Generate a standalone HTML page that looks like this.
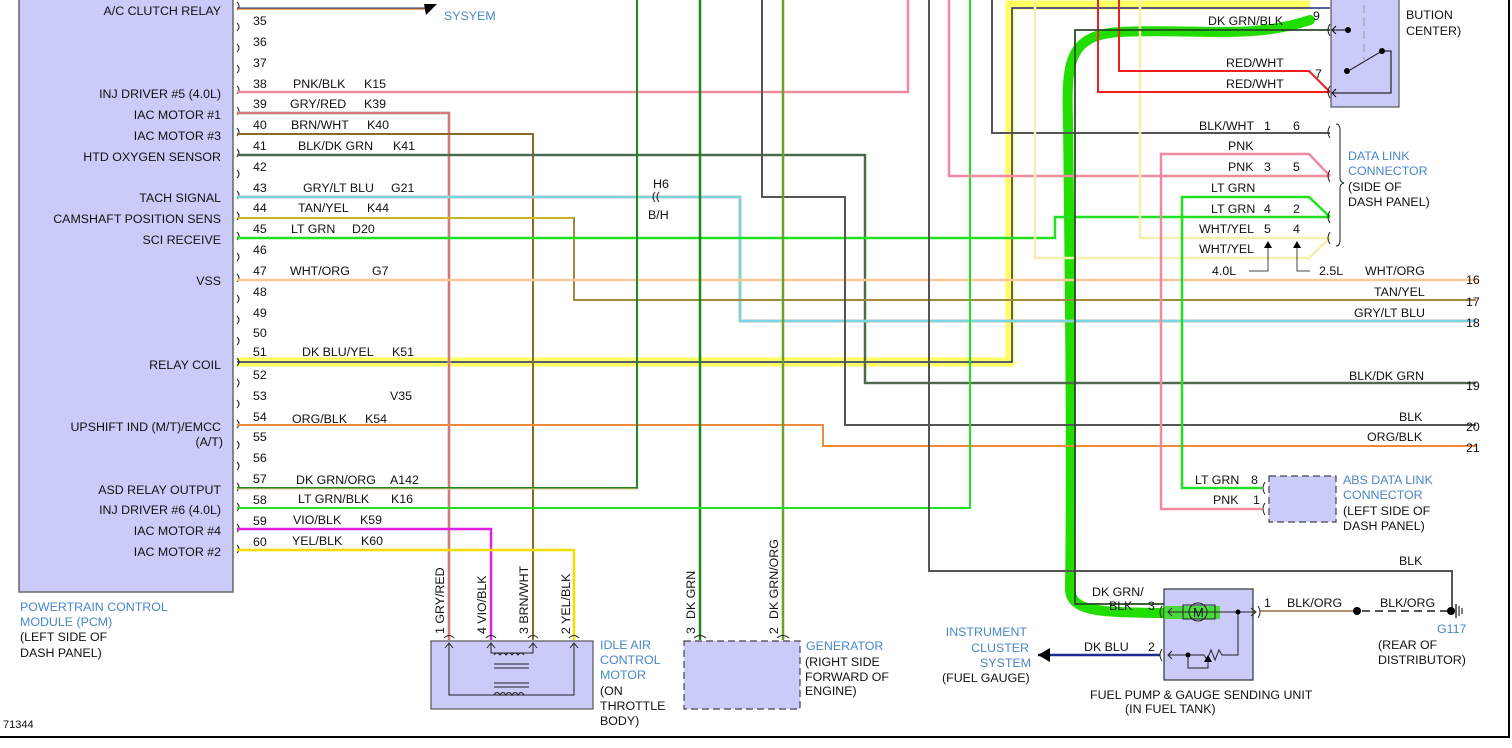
<!DOCTYPE html>
<html><head><meta charset="utf-8"><style>
html,body{margin:0;padding:0;background:#fff;}
svg{display:block;}
text{font-family:"Liberation Sans",sans-serif;font-size:12.4px;fill:#111;}
.b{fill:#4a86c8;}
</style></head><body>
<svg width="1512" height="748" viewBox="0 0 1512 748" xmlns="http://www.w3.org/2000/svg">
<!-- highlights first -->
<path d="M237 362 H1010 V5 H1310" fill="none" stroke="#ffff60" stroke-width="9"/>
<path d="M1310 20 C1250 40 1200 28 1120 32 C1070 35 1066 60 1068 120 C1070 300 1072 450 1070 590 C1072 612 1100 612 1160 613 H1220" fill="none" stroke="#22dd00" stroke-width="10" stroke-linecap="round"/>
<!-- borders -->
<line x1="1509" y1="0" x2="1509" y2="738" stroke="#000" stroke-width="2"/>
<line x1="0" y1="737" x2="1510" y2="737" stroke="#000" stroke-width="2"/>
<!-- PCM box -->
<rect x="19" y="-2" width="214" height="594" fill="#cbcbfa" stroke="#666" stroke-width="1.5"/>
<g text-anchor="end">
<text x="221" y="15">A/C CLUTCH RELAY</text>
<text x="221" y="98">INJ DRIVER #5 (4.0L)</text>
<text x="221" y="119">IAC MOTOR #1</text>
<text x="221" y="140">IAC MOTOR #3</text>
<text x="221" y="161">HTD OXYGEN SENSOR</text>
<text x="221" y="202">TACH SIGNAL</text>
<text x="221" y="223">CAMSHAFT POSITION SENS</text>
<text x="221" y="244">SCI RECEIVE</text>
<text x="221" y="285">VSS</text>
<text x="221" y="369">RELAY COIL</text>
<text x="221" y="431">UPSHIFT IND (M/T)/EMCC</text>
<text x="223" y="446">(A/T)</text>
<text x="221" y="494">ASD RELAY OUTPUT</text>
<text x="221" y="514">INJ DRIVER #6 (4.0L)</text>
<text x="221" y="535">IAC MOTOR #4</text>
<text x="221" y="556">IAC MOTOR #2</text>
</g>
<text x="20" y="611" class="b">POWERTRAIN CONTROL</text>
<text x="20" y="626" class="b">MODULE (PCM)</text>
<text x="20" y="641">(LEFT SIDE OF</text>
<text x="20" y="657">DASH PANEL)</text>
<text x="3" y="728" style="font-size:11px">71344</text>

<!-- pin arcs -->
<g fill="none" stroke="#222" stroke-width="1">
<path d="M237 2 q4 4 0 8"/>
<path d="M237 23 q4 4 0 8"/><path d="M237 44 q4 4 0 8"/><path d="M237 65 q4 4 0 8"/>
<path d="M237 86 q4 4 0 8"/><path d="M237 107 q4 4 0 8"/><path d="M237 128 q4 4 0 8"/>
<path d="M237 149 q4 4 0 8"/><path d="M237 170 q4 4 0 8"/><path d="M237 191 q4 4 0 8"/>
<path d="M237 212 q4 4 0 8"/><path d="M237 232 q4 4 0 8"/><path d="M237 253 q4 4 0 8"/>
<path d="M237 274 q4 4 0 8"/><path d="M237 295 q4 4 0 8"/><path d="M237 316 q4 4 0 8"/>
<path d="M237 337 q4 4 0 8"/><path d="M237 358 q4 4 0 8"/><path d="M237 379 q4 4 0 8"/>
<path d="M237 400 q4 4 0 8"/><path d="M237 420 q4 4 0 8"/><path d="M237 441 q4 4 0 8"/>
<path d="M237 462 q4 4 0 8"/><path d="M237 483 q4 4 0 8"/><path d="M237 503 q4 4 0 8"/>
<path d="M237 524 q4 4 0 8"/><path d="M237 545 q4 4 0 8"/>
</g>
<g>
<text x="253" y="25">35</text><text x="253" y="46">36</text><text x="253" y="67">37</text>
<text x="253" y="88">38</text><text x="253" y="108">39</text><text x="253" y="129">40</text>
<text x="253" y="150">41</text><text x="253" y="171">42</text><text x="253" y="192">43</text>
<text x="253" y="212">44</text><text x="253" y="233">45</text><text x="253" y="254">46</text>
<text x="253" y="275">47</text><text x="253" y="296">48</text><text x="253" y="317">49</text>
<text x="253" y="337">50</text><text x="253" y="356">51</text><text x="253" y="379">52</text>
<text x="253" y="400">53</text><text x="253" y="421">54</text><text x="253" y="441">55</text>
<text x="253" y="462">56</text><text x="253" y="483">57</text><text x="253" y="504">58</text>
<text x="253" y="525">59</text><text x="253" y="546">60</text>
</g>
<text x="293" y="88">PNK/BLK</text><text x="364" y="88">K15</text>
<text x="290" y="108">GRY/RED</text><text x="364" y="108">K39</text>
<text x="291" y="129">BRN/WHT</text><text x="367" y="129">K40</text>
<text x="298" y="150">BLK/DK GRN</text><text x="393" y="150">K41</text>
<text x="303" y="192">GRY/LT BLU</text><text x="391" y="192">G21</text>
<text x="298" y="212">TAN/YEL</text><text x="367" y="212">K44</text>
<text x="291" y="233">LT GRN</text><text x="352" y="233">D20</text>
<text x="290" y="275">WHT/ORG</text><text x="372" y="275">G7</text>
<text x="302" y="356">DK BLU/YEL</text><text x="392" y="356">K51</text>
<text x="390" y="400">V35</text>
<text x="292" y="423">ORG/BLK</text><text x="365" y="423">K54</text>
<text x="296" y="484">DK GRN/ORG</text><text x="390" y="484">A142</text>
<text x="298" y="503">LT GRN/BLK</text><text x="391" y="503">K16</text>
<text x="293" y="524">VIO/BLK</text><text x="360" y="524">K59</text>
<text x="292" y="545">YEL/BLK</text><text x="361" y="545">K60</text>

<line x1="237" y1="9" x2="428" y2="9" stroke="#f08a3a" stroke-width="1.5"/>
<line x1="237" y1="8" x2="428" y2="8" stroke="#1a2a80" stroke-width="1"/>
<polygon points="424,4 437,4 426,15" fill="#000"/>
<text x="444" y="20" class="b">SYSYEM</text>

<path d="M237 362 H1012 V8 H1330" fill="none" stroke="#1a2a80" stroke-width="1.5"/>

<g fill="none">
<path d="M237 92 H908 V0" stroke="#f08aa0" stroke-width="2.5"/>
<path d="M237 113 H449 V640" stroke="#bbb" stroke-width="3"/>
<path d="M237 113 H449 V640" stroke="#f05050" stroke-width="1.3"/>
<path d="M237 134 H533 V640" stroke="#8a6a2a" stroke-width="2"/>
<path d="M237 155 H865 V383 H1476" stroke="#4a7a4a" stroke-width="2.5"/>
<path d="M237 155 H865 V383 H1476" stroke="#555" stroke-width="1"/>
<path d="M237 197 H740 V321 H1476" stroke="#bbb" stroke-width="3"/>
<path d="M237 197 H740 V321 H1476" stroke="#60e0f0" stroke-width="1.5"/>
<path d="M237 218 H574 V300 H1476" stroke="#a08a40" stroke-width="2"/>
<path d="M237 218 H574" stroke="#f0e000" stroke-width="1"/>
<path d="M237 238 H1055 V217 H1330" stroke="#20e020" stroke-width="2.5"/>
<path d="M237 280 H1476" stroke="#f8c89a" stroke-width="2.5"/>
<path d="M237 425 H823 V446 H1476" stroke="#f08a3a" stroke-width="2"/>
<path d="M762 0 V197 H845 V425 H1476" stroke="#555" stroke-width="2"/>
<path d="M237 488 H637 V0" stroke="#208a20" stroke-width="2"/>
<path d="M237 489 H637" stroke="#f0c090" stroke-width="1"/>
<path d="M700 0 V640" stroke="#1a8a1a" stroke-width="2.5"/>
<path d="M783 0 V640" stroke="#6aa030" stroke-width="2.5"/>
<path d="M237 508 H970 V0" stroke="#20e020" stroke-width="2"/>
<path d="M237 529 H491 V640" stroke="#e020e0" stroke-width="2.5"/>
<path d="M237 550 H574 V640" stroke="#f0e000" stroke-width="2.5"/>
<path d="M929 0 V571 H1452 V610" stroke="#555" stroke-width="2"/>
<path d="M949 0 V176 H1330" stroke="#f08aa0" stroke-width="2.5"/>
<path d="M992 0 V133 H1330" stroke="#555" stroke-width="2"/>
<path d="M1035 0 V258 H1309 L1330 238" stroke="#f4f0b0" stroke-width="2.5"/>
<path d="M1140 0 V238 H1330" stroke="#f4f0b0" stroke-width="2.5"/>
<path d="M1098 0 V92 H1330" stroke="#f02020" stroke-width="2"/>
<path d="M1119 0 V71 H1309 L1330 92" stroke="#f02020" stroke-width="2"/>
<path d="M1330 176 L1309 154 H1161 V509 H1262" stroke="#f08aa0" stroke-width="2.5"/>
<path d="M1330 217 L1309 197 H1182 V488 H1262" stroke="#20e020" stroke-width="2.5"/>
<path d="M1330 30 H1075 V604 H1180" stroke="#2a4a2a" stroke-width="1.8"/>
<path d="M1038 655 H1160" stroke="#1a2a90" stroke-width="2.5"/>
<path d="M1260 611 H1355" stroke="#f0b080" stroke-width="2"/>
<path d="M1260 611 H1355" stroke="#555" stroke-width="0.8"/>
<path d="M1362 611 H1450" stroke="#555" stroke-width="2" stroke-dasharray="8,5"/>
</g>
<polygon points="1038,655 1050,648 1050,662" fill="#000"/>
<circle cx="1357" cy="611" r="4" fill="#000"/>
<circle cx="1451" cy="611" r="4" fill="#000"/>
<line x1="1456" y1="604" x2="1456" y2="618" stroke="#000" stroke-width="1.2"/>
<line x1="1459" y1="606" x2="1459" y2="616" stroke="#000" stroke-width="1"/>
<line x1="1462" y1="608" x2="1462" y2="614" stroke="#000" stroke-width="1"/>

<text x="653" y="188">H6</text>
<path d="M655 192 q-4 5 0 10 M659 192 q-4 5 0 10" fill="none" stroke="#222"/>
<text x="648" y="219">B/H</text>

<rect x="1331" y="-2" width="68" height="109" fill="#cbcbfa" stroke="#555" stroke-width="1.2"/>
<line x1="1364" y1="5" x2="1364" y2="60" stroke="#999" stroke-dasharray="8,5"/>
<path d="M1333 30 H1348" stroke="#000"/><circle cx="1348" cy="30" r="3" fill="#000"/>
<path d="M1336 26 L1332 30 L1336 34" fill="none" stroke="#000"/>
<circle cx="1347" cy="71" r="3" fill="#000"/><circle cx="1382" cy="51" r="3" fill="#000"/>
<line x1="1382" y1="51" x2="1350" y2="70" stroke="#000"/>
<path d="M1382 51 H1391 V93 H1333" fill="none" stroke="#000"/>
<path d="M1336 89 L1332 93 L1336 97" fill="none" stroke="#000"/>
<path d="M1330 24 q-4 6 0 12 M1330 86 q-4 6 0 12" fill="none" stroke="#222"/>
<text x="1313" y="20">9</text><text x="1315" y="78">7</text>
<text x="1208" y="25">DK GRN/BLK</text>
<text x="1226" y="67">RED/WHT</text><text x="1226" y="88">RED/WHT</text>
<text x="1406" y="19">BUTION</text><text x="1406" y="35">CENTER)</text>

<g fill="none" stroke="#222">
<path d="M1330 126 q-4 6 0 12"/><path d="M1330 170 q-4 6 0 12"/>
<path d="M1330 211 q-4 6 0 12"/><path d="M1330 232 q-4 6 0 12"/>
<path d="M1336 124 q4 0 4 6 V178 q0 4 4 5 q-4 1 -4 5 V240 q0 6 -4 6"/>
</g>
<text x="1199" y="130">BLK/WHT</text><text x="1264" y="130">1</text><text x="1293" y="130">6</text>
<text x="1228" y="150">PNK</text>
<text x="1228" y="171">PNK</text><text x="1264" y="171">3</text><text x="1293" y="171">5</text>
<text x="1211" y="192">LT GRN</text>
<text x="1211" y="213">LT GRN</text><text x="1264" y="213">4</text><text x="1293" y="213">2</text>
<text x="1199" y="233">WHT/YEL</text><text x="1264" y="233">5</text><text x="1293" y="233">4</text>
<text x="1199" y="253">WHT/YEL</text>
<polygon points="1268,241 1264,248 1272,248" fill="#000"/>
<polygon points="1297,241 1293,248 1301,248" fill="#000"/>
<path d="M1249 271 H1268 V248 M1297 248 V271 H1310" fill="none" stroke="#444"/>
<text x="1212" y="275">4.0L</text><text x="1319" y="275">2.5L</text>
<text x="1348" y="160" class="b">DATA LINK</text><text x="1348" y="175" class="b">CONNECTOR</text>
<text x="1348" y="191">(SIDE OF</text><text x="1348" y="206">DASH PANEL)</text>

<text x="1365" y="275">WHT/ORG</text><text x="1466" y="284">16</text>
<text x="1374" y="296">TAN/YEL</text><text x="1466" y="306">17</text>
<text x="1354" y="317">GRY/LT BLU</text><text x="1466" y="327">18</text>
<text x="1349" y="380">BLK/DK GRN</text><text x="1466" y="390">19</text>
<text x="1399" y="421">BLK</text><text x="1466" y="431">20</text>
<text x="1367" y="441">ORG/BLK</text><text x="1466" y="452">21</text>
<text x="1399" y="565">BLK</text>

<rect x="1269" y="476" width="67" height="46" fill="#cbcbfa" stroke="#444" stroke-width="1.2" stroke-dasharray="7,4"/>
<path d="M1265 482 q-4 6 0 12 M1265 503 q-4 6 0 12" fill="none" stroke="#222"/>
<text x="1195" y="484">LT GRN</text><text x="1251" y="484">8</text>
<text x="1213" y="504">PNK</text><text x="1253" y="504">1</text>
<text x="1343" y="484" class="b">ABS DATA LINK</text><text x="1343" y="499" class="b">CONNECTOR</text>
<text x="1343" y="515">(LEFT SIDE OF</text><text x="1343" y="530">DASH PANEL)</text>

<rect x="431" y="641" width="162" height="68" fill="#cbcbfa" stroke="#555" stroke-width="1.2"/>
<g fill="none" stroke="#222" stroke-width="1">
<path d="M444 638 q5 -5 10 0 M486 638 q5 -5 10 0 M528 638 q5 -5 10 0 M569 638 q5 -5 10 0"/>
<path d="M449 643 V695 H574 V643 M445 648 L449 643 L453 648 M570 648 L574 643 L578 648"/>
<path d="M491 643 V653 H533 V643 M487 648 L491 643 L495 648 M529 648 L533 643 L537 648"/>
<path d="M494 655 q3 -4 6 0 q3 -4 6 0 q3 -4 6 0 q3 -4 6 0 q3 -4 6 0"/>
<path d="M494 664 H529 M494 668 H529 M494 683 H529 M494 687 H529"/>
<path d="M494 695 q3 -5 6 0 q3 -5 6 0 q3 -5 6 0 q3 -5 6 0 q3 -5 6 0"/>
</g>
<g>
<text transform="translate(444,634) rotate(-90)">1 GRY/RED</text>
<text transform="translate(486,634) rotate(-90)">4 VIO/BLK</text>
<text transform="translate(528,634) rotate(-90)">3 BRN/WHT</text>
<text transform="translate(570,634) rotate(-90)">2 YEL/BLK</text>
<text transform="translate(695,634) rotate(-90)">3</text>
<text transform="translate(695,619) rotate(-90)">DK GRN</text>
<text transform="translate(778,634) rotate(-90)">2</text>
<text transform="translate(778,619) rotate(-90)">DK GRN/ORG</text>
</g>
<text x="600" y="649" class="b">IDLE AIR</text><text x="600" y="664" class="b">CONTROL</text>
<text x="600" y="679" class="b">MOTOR</text><text x="600" y="695">(ON</text>
<text x="600" y="710">THROTTLE</text><text x="600" y="725">BODY)</text>

<rect x="684" y="641" width="116" height="68" fill="#cbcbfa" stroke="#444" stroke-width="1.2" stroke-dasharray="7,4"/>
<path d="M694 638 q6 -5 12 0 M777 638 q6 -5 12 0" fill="none" stroke="#222"/>
<text x="806" y="650" class="b">GENERATOR</text>
<text x="805" y="666">(RIGHT SIDE</text><text x="805" y="681">FORWARD OF</text><text x="805" y="695">ENGINE)</text>

<rect x="1164" y="589" width="89" height="91" fill="#cbcbfa" stroke="#333" stroke-width="1.2"/>
<path d="M1164 606 H1220 V619 H1164 Z" fill="#22dd00" opacity="0.75"/>
<g fill="none" stroke="#222" stroke-width="1">
<path d="M1168 612 H1256 M1172 608 L1168 612 L1172 616 M1251 608 L1256 612 L1251 616"/>
<rect x="1183" y="605" width="32" height="14"/>
<circle cx="1198" cy="612" r="9"/>
<path d="M1238 612 V655 H1222 l-3 -5 l-4 10 l-4 -10 l-4 10 l-3 -5 H1168 M1172 651 L1168 655 L1172 659"/>
<path d="M1188 655 V668 H1208 V660"/>
<path d="M1162 606 q-4 6 0 12 M1162 649 q-4 6 0 12 M1258 606 q4 6 0 12"/>
</g>
<circle cx="1238" cy="612" r="2.5" fill="#000"/><circle cx="1188" cy="655" r="2.5" fill="#000"/>
<polygon points="1208,655 1204,662 1212,662" fill="#000"/>
<text x="1193" y="617" style="font-size:13px">M</text>
<text x="1092" y="596">DK GRN/</text><text x="1109" y="610">BLK</text><text x="1148" y="610">3</text>
<text x="1084" y="651">DK BLU</text><text x="1148" y="651">2</text>
<text x="1264" y="607">1</text>
<text x="1287" y="607">BLK/ORG</text><text x="1380" y="607">BLK/ORG</text>
<text x="1437" y="633" class="b">G117</text>
<text x="1378" y="649">(REAR OF</text><text x="1378" y="664">DISTRIBUTOR)</text>
<text x="1090" y="699">FUEL PUMP &amp; GAUGE SENDING UNIT</text>
<text x="1125" y="713">(IN FUEL TANK)</text>
<text x="1027" y="636" text-anchor="end" class="b">INSTRUMENT</text>
<text x="1029" y="652" text-anchor="end" class="b">CLUSTER</text>
<text x="1031" y="667" text-anchor="end" class="b">SYSTEM</text>
<text x="942" y="682">(FUEL GAUGE)</text>
</svg>
</body></html>
